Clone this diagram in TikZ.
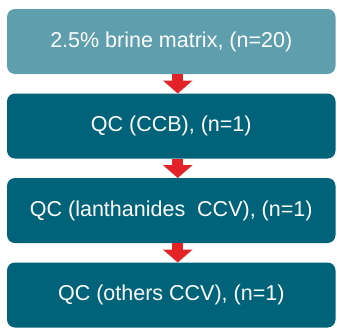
\documentclass[tikz,border=0pt]{standalone}
\usepackage{fontspec}
\setmainfont{Liberation Sans}
\usetikzlibrary{positioning,arrows.meta}
\definecolor{tealtop}{RGB}{95,158,173}
\definecolor{tealbox}{RGB}{0,99,122}
\definecolor{arrowred}{RGB}{228,35,41}
\begin{document}
\begin{tikzpicture}[
        stepbox/.style={rectangle, rounded corners=8pt, fill=tealbox, text=white,
            minimum width=328.5pt, minimum height=65pt, inner sep=0pt, outer sep=0pt,
            font=\fontsize{21.5}{26}\selectfont},
        redarrow/.style={draw=arrowred, line width=11pt,
            -{Triangle[width=29pt,length=13pt]}, arrowred},
        node distance=19.5pt
    ]
        \useasboundingbox (0,0) rectangle (337pt,-327pt);
        \node[stepbox, fill=tealtop] (matrix) at (171.25pt,-41.5pt) {2.5\% brine matrix, (n=20)};
        \node[stepbox, below=of matrix] (ccb) {QC (CCB), (n=1)};
        \node[stepbox, below=of ccb] (lanth) {QC (lanthanides~ CCV), (n=1)};
        \node[stepbox, below=of lanth] (others) {QC (others CCV), (n=1)};
        % arrows between the steps
        \draw[redarrow] ([xshift=6.5pt]matrix.south) -- ([xshift=6.5pt]ccb.north);
        \draw[redarrow] ([xshift=6.5pt]ccb.south) -- ([xshift=6.5pt]lanth.north);
        \draw[redarrow] ([xshift=6.5pt]lanth.south) -- ([xshift=6.5pt]others.north);
    \end{tikzpicture}
\end{document}
